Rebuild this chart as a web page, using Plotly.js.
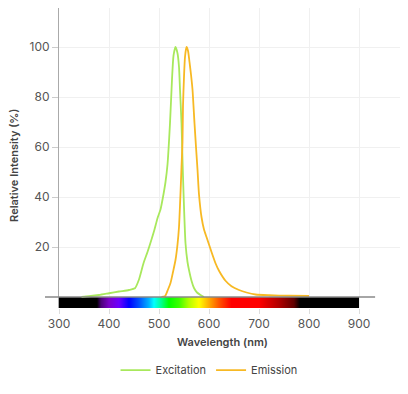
<!DOCTYPE html>
<html>
<head>
<meta charset="utf-8">
<script src="https://cdn.plot.ly/plotly-3.0.1.min.js"></script>
<style>html,body{margin:0;padding:0;background:#fff;}#chart{width:408px;height:394px;}</style>
</head>
<body>
<div id="chart"></div>
<script>
// Excitation spectrum (wavelength nm, relative intensity %)
var excWavelength = [345, 360, 380, 400, 420, 440, 452, 460, 469, 477, 485, 491, 497, 503, 508, 513, 517, 522, 526, 529, 533, 537, 540, 542, 545, 547, 549, 553, 557, 560, 565, 570, 576, 583, 590];
var excIntensity  = [0, 0.3, 0.8, 1.5, 2.2, 2.8, 3.5, 7, 13.5, 18, 23, 27, 31.5, 35, 40, 46, 53, 69.5, 87, 96.5, 100, 97.5, 92, 83, 69.5, 55, 42, 21.5, 14, 10.8, 6.5, 3.6, 1.8, 0.8, 0];

// Emission spectrum
var emWavelength = [505, 512, 518, 523, 528, 533, 537, 540, 543, 545, 547, 548, 550, 552, 555, 558, 561, 564, 567, 571, 574, 577, 580, 585, 590, 595, 600, 605, 613, 620, 633, 645, 660, 675, 693, 720, 760, 800];
var emIntensity  = [0, 0.3, 3, 5.6, 10, 14.8, 21, 28, 41.5, 52, 62, 76.5, 88, 96, 100, 98.5, 94, 89, 83, 69.5, 60, 51, 41, 32, 27, 24, 21, 18, 13.5, 10.5, 6.5, 4.3, 2.8, 1.8, 1, 0.7, 0.5, 0.4];

var xTickVals = [300, 400, 500, 600, 700, 800, 900];
var yTickVals = [20, 40, 60, 80, 100];

// Visible-spectrum colour bar (wavelength -> colour)
var spectrumWavelengths = [300, 376, 384, 400, 420, 440, 460, 480, 490, 505, 520, 540, 560, 580, 600, 620, 645, 700, 740, 770, 782, 900];
var spectrumColors = ['#000000', '#000000', '#4b0078', '#7a00c8', '#6a00ff', '#0000ff', '#0050ff', '#00b4ff', '#00ffff', '#00ff8c', '#00ff00', '#3cff00', '#b4ff00', '#ffff00', '#ffaa00', '#ff5500', '#ff0000', '#ff0000', '#b00000', '#600000', '#000000', '#000000'];

var specMin = 300, specMax = 900, specStep = 2;
var specEdges = [], specZ = [];
for (var w = specMin; w <= specMax; w += specStep) specEdges.push(w);
for (var i = 0; i < specEdges.length - 1; i++) specZ.push((specEdges[i] + specEdges[i + 1]) / 2);
var colorscale = spectrumWavelengths.map(function (w, k) {
  return [(w - specMin) / (specMax - specMin), spectrumColors[k]];
});

var green = '#a8e85c', orange = '#f7b924';

var traces = [
  {
    type: 'heatmap', x: specEdges, y: [-4.4, 0], z: [specZ],
    colorscale: colorscale, zmin: specMin, zmax: specMax,
    showscale: false, hoverinfo: 'skip', showlegend: false
  },
  {
    type: 'scatter', mode: 'lines', name: 'Excitation',
    x: excWavelength, y: excIntensity,
    line: {color: green, width: 1.8, shape: 'spline', smoothing: 0.6}
  },
  {
    type: 'scatter', mode: 'lines', name: 'Emission',
    x: emWavelength, y: emIntensity,
    line: {color: orange, width: 1.8, shape: 'spline', smoothing: 0.6}
  }
];

var font = 'Inter, "Open Sans", sans-serif';
var layout = {
  width: 408, height: 394,
  margin: {l: 59, r: 8, t: 8, b: 86},
  paper_bgcolor: '#fff', plot_bgcolor: '#fff',
  font: {family: font, size: 12, color: '#555'},
  showlegend: true,
  legend: {
    orientation: 'h', x: 0.44, xanchor: 'center', y: -0.207, yanchor: 'middle',
    font: {family: font, size: 11, color: '#444'}, itemwidth: 30, traceorder: 'normal'
  },
  xaxis: {
    range: [300, 982], tickvals: xTickVals, ticktext: xTickVals.map(String),
    showgrid: true, gridcolor: '#f0f0f0', zeroline: false, showline: false,
    ticks: 'outside', ticklen: 5, tickcolor: '#ddd',
    tickfont: {family: font, size: 12, color: '#555'}
  },
  yaxis: {
    range: [-4.4, 115.6], tickvals: yTickVals, ticktext: yTickVals.map(String),
    showgrid: true, gridcolor: '#f0f0f0', zeroline: false,
    showline: true, linecolor: '#aaa', linewidth: 1,
    ticks: 'outside', ticklen: 6, tickcolor: '#ccc',
    tickfont: {family: font, size: 12, color: '#555'}
  },
  shapes: [
    {type: 'line', xref: 'paper', yref: 'y', x0: -0.041, x1: 0.927, y0: 0, y1: 0,
     line: {color: '#888', width: 1.5}}
  ],
  annotations: [
    {text: 'Wavelength (nm)', xref: 'paper', yref: 'paper', x: 0.48, y: -0.113,
     xanchor: 'center', yanchor: 'middle', showarrow: false,
     font: {family: font, size: 11, color: '#444', weight: 600}},
    {text: 'Relative Intensity (%)', xref: 'paper', yref: 'paper', x: -0.132, y: 0.477,
     xanchor: 'center', yanchor: 'middle', showarrow: false, textangle: -90,
     font: {family: font, size: 11, color: '#444', weight: 600}}
  ]
};

Plotly.newPlot('chart', traces, layout, {displayModeBar: false, staticPlot: true});
</script>
</body>
</html>
